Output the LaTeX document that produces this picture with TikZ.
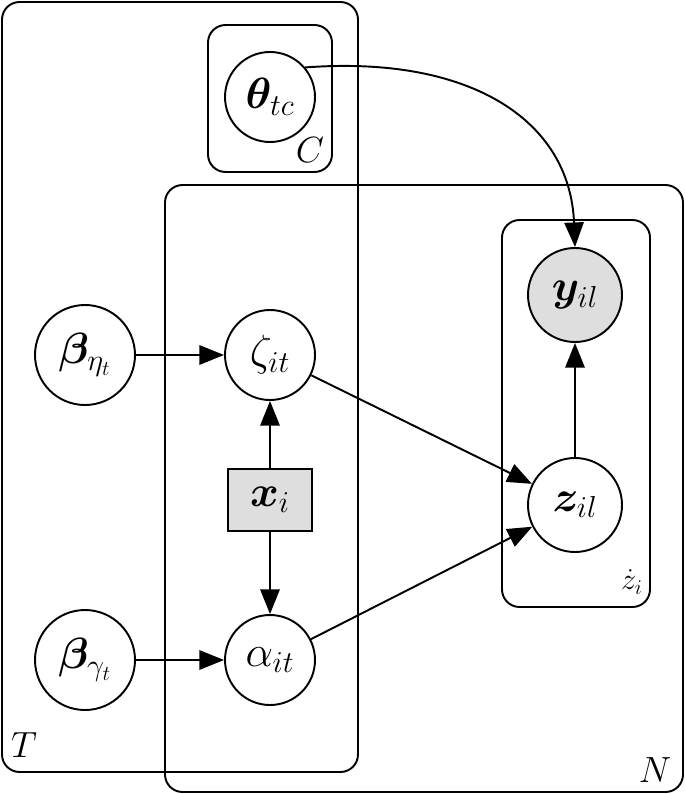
\documentclass[tikz,border=0pt]{standalone}
\usepackage{amsmath,bm}
\usetikzlibrary{arrows.meta}
\begin{document}
\begin{tikzpicture}[x=0.02cm,y=-0.02cm,
  lat/.style={circle,draw,line width=1.1pt,minimum size=90*0.02cm,inner sep=0pt,font=\fontsize{26}{30}\selectfont},
  obs/.style={lat,fill=black!13},
  det/.style={rectangle,draw,line width=1.1pt,fill=black!13,minimum width=84*0.02cm,minimum height=62*0.02cm,inner sep=0pt,font=\fontsize{26}{30}\selectfont},
  plate/.style={draw,line width=1.1pt,rounded corners=10pt},
  lab/.style={font=\fontsize{22}{26}\selectfont,inner sep=0pt},
  edge/.style={-{Triangle[length=14pt,width=11pt]},line width=1.1pt}]
\useasboundingbox (0,0) rectangle (685,794);
\draw[plate] (2,2) rectangle (358,772);
\draw[plate] (208,25) rectangle (332,172);
\draw[plate] (165,185) rectangle (683,792);
\draw[plate] (502,220) rectangle (650,607);
\node[lab] (lT) at (24,745) {$T$};
\node[lab] (lC) at (310,150) {$C$};
\node[lab] (lN) at (655,770) {$N$};
\node[lab,font=\fontsize{18}{22}\selectfont] (lz) at (632,582) {$\dot z_i$};
\node[lat] (theta) at (270,97) {$\bm{\theta}_{tc}$};
\node[lat,minimum size=100*0.02cm] (be) at (85,355) {$\bm{\beta}_{\eta_t}$};
\node[lat] (zeta) at (270,355) {$\zeta_{it}$};
\node[det] (x) at (270,500) {$\bm{x}_i$};
\node[lat] (alpha) at (270,660) {$\alpha_{it}$};
\node[lat,minimum size=100*0.02cm] (bg) at (85,660) {$\bm{\beta}_{\gamma_t}$};
\node[obs,minimum size=94*0.02cm] (y) at (575,295) {$\bm{y}_{il}$};
\node[lat,minimum size=94*0.02cm] (z) at (575,505) {$\bm{z}_{il}$};
\draw[edge] (be) -- (zeta);
\draw[edge] (bg) -- (alpha);
\draw[edge] (x) -- (zeta);
\draw[edge] (x) -- (alpha);
\draw[edge] (zeta) -- (z);
\draw[edge] (alpha) -- (z);
\draw[edge] (z) -- (y);
\draw[edge] (theta.40) .. controls (470,55) and (570,120) .. (y.north);
\end{tikzpicture}
\end{document}
